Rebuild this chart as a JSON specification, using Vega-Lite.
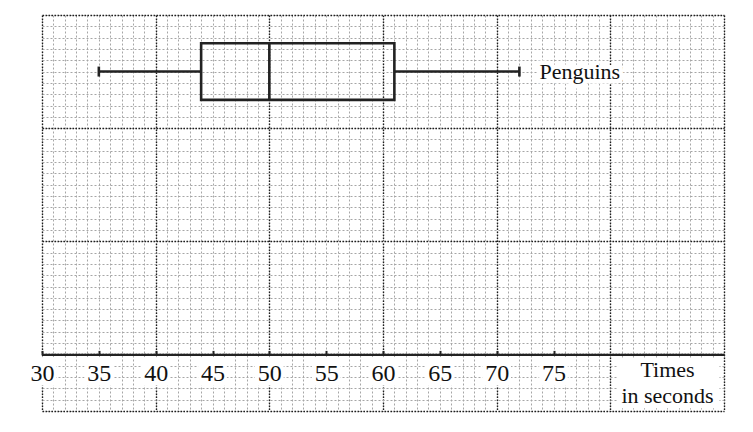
{
  "$schema": "https://vega.github.io/schema/vega-lite/v6.json",
  "width": 682,
  "height": 396,
  "autosize": {"type": "none"},
  "padding": {"left": 42, "top": 15, "right": 29, "bottom": 21},
  "background": "white",
  "config": {"view": {"stroke": null}},
  "data": {"values": [{"group": "Penguins", "min": 35, "q1": 44, "median": 50, "q3": 61, "max": 72}]},
  "resolve": {"axis": {"x": "independent", "y": "independent"}},
  "layer": [
    {
      "mark": {"type": "rule", "stroke": "#222222", "strokeWidth": 2.6},
      "encoding": {
        "x": {"field": "min", "type": "quantitative",
          "scale": {"domain": [30, 90], "nice": false, "zero": false},
          "axis": {"orient": "bottom", "values": [30,31,32,33,34,35,36,37,38,39,40,41,42,43,44,45,46,47,48,49,50,51,52,53,54,55,56,57,58,59,60,61,62,63,64,65,66,67,68,69,70,71,72,73,74,75,76,77,78,79,80,81,82,83,84,85,86,87,88,89,90],
            "grid": true, "gridColor": "#a6a6a6", "gridDash": [2, 2], "gridWidth": 1,
            "domain": false, "ticks": false, "labels": false, "title": null}},
        "x2": {"field": "q1"},
        "y": {"datum": 25, "type": "quantitative",
          "scale": {"domain": [-5, 30], "nice": false, "zero": false},
          "axis": {"orient": "left", "values": [-5,-4,-3,-2,-1,0,1,2,3,4,5,6,7,8,9,10,11,12,13,14,15,16,17,18,19,20,21,22,23,24,25,26,27,28,29,30],
            "grid": true, "gridColor": "#a6a6a6", "gridDash": [2, 2], "gridWidth": 1,
            "domain": false, "ticks": false, "labels": false, "title": null}}
      }
    },
    {
      "mark": {"type": "rule", "stroke": "#222222", "strokeWidth": 2.6},
      "encoding": {
        "x": {"field": "q3", "type": "quantitative",
          "scale": {"domain": [30, 90], "nice": false, "zero": false},
          "axis": {"orient": "bottom", "values": [30, 40, 50, 60, 70, 80, 90],
            "grid": true, "gridColor": "#1e1e1e", "gridDash": [1.5, 1.5], "gridWidth": 1.4,
            "domain": false, "ticks": false, "labels": false, "title": null}},
        "x2": {"field": "max"},
        "y": {"datum": 25, "type": "quantitative",
          "scale": {"domain": [-5, 30], "nice": false, "zero": false},
          "axis": {"orient": "left", "values": [-5, 0, 10, 20, 30],
            "grid": true, "gridColor": "#1e1e1e", "gridDash": [1.5, 1.5], "gridWidth": 1.4,
            "domain": false, "ticks": false, "labels": false, "title": null}}
      }
    },
    {
      "data": {"values": [{"t": 30}, {"t": 35}, {"t": 40}, {"t": 45}, {"t": 50}, {"t": 55}, {"t": 60}, {"t": 65}, {"t": 70}, {"t": 75}]},
      "mark": {"type": "point", "shape": "square", "filled": true, "color": "white", "opacity": 1, "size": 820, "strokeWidth": 0},
      "encoding": {
        "x": {"field": "t", "type": "quantitative", "axis": null},
        "y": {"datum": -1.5, "type": "quantitative", "axis": null}
      }
    },
    {
      "mark": {"type": "rect", "color": "white", "opacity": 1},
      "encoding": {
        "x": {"datum": 80.6, "type": "quantitative", "axis": null},
        "x2": {"datum": 89.6},
        "y": {"datum": -0.35, "type": "quantitative", "axis": null},
        "y2": {"datum": -4.75}
      }
    },
    {
      "mark": {"type": "rect", "fillOpacity": 0, "stroke": "#222222", "strokeWidth": 2.6},
      "encoding": {
        "x": {"field": "q1", "type": "quantitative",
          "scale": {"domain": [30, 90], "nice": false, "zero": false},
          "axis": {"orient": "bottom", "offset": -56.6, "zindex": 1, "values": [30, 35, 40, 45, 50, 55, 60, 65, 70, 75],
            "grid": false, "domain": true, "domainColor": "#222222", "domainWidth": 2.2,
            "ticks": true, "tickColor": "#222222", "tickWidth": 2, "tickSize": -4,
            "labels": true, "labelFlush": false, "labelOverlap": false,
            "labelFont": "Times New Roman, Liberation Serif, serif", "labelFontSize": 24, "labelColor": "#111111", "labelPadding": 11,
            "title": ["Times", "in seconds"], "titleX": 625, "titleY": 22.5, "titleBaseline": "alphabetic",
            "titleAlign": "center", "titleAngle": 0, "titleFont": "Times New Roman, Liberation Serif, serif", "titleFontSize": 22,
            "titleFontWeight": "normal", "titleColor": "#111111", "titleLineHeight": 26}},
        "x2": {"field": "q3"},
        "y": {"datum": 22.5, "type": "quantitative",
          "scale": {"domain": [-5, 30], "nice": false, "zero": false}, "axis": null},
        "y2": {"datum": 27.5}
      }
    },
    {
      "mark": {"type": "rule", "stroke": "#222222", "strokeWidth": 2.6},
      "encoding": {
        "x": {"field": "median", "type": "quantitative", "axis": null},
        "y": {"datum": 22.5, "type": "quantitative", "axis": null},
        "y2": {"datum": 27.5}
      }
    },
    {
      "mark": {"type": "tick", "orient": "vertical", "color": "#222222", "size": 10, "thickness": 2.6, "opacity": 1},
      "encoding": {
        "x": {"field": "min", "type": "quantitative", "axis": null},
        "y": {"datum": 25, "type": "quantitative", "axis": null}
      }
    },
    {
      "mark": {"type": "tick", "orient": "vertical", "color": "#222222", "size": 10, "thickness": 2.6, "opacity": 1},
      "encoding": {
        "x": {"field": "max", "type": "quantitative", "axis": null},
        "y": {"datum": 25, "type": "quantitative", "axis": null}
      }
    },
    {
      "mark": {"type": "text", "align": "left", "baseline": "middle", "dx": 20, "font": "Times New Roman, Liberation Serif, serif", "fontSize": 22, "color": "white", "stroke": "white", "strokeWidth": 9, "strokeJoin": "round"},
      "encoding": {
        "x": {"field": "max", "type": "quantitative", "axis": null},
        "y": {"datum": 25, "type": "quantitative", "axis": null},
        "text": {"field": "group"}
      }
    },
    {
      "mark": {"type": "text", "align": "left", "baseline": "middle", "dx": 20, "font": "Times New Roman, Liberation Serif, serif", "fontSize": 22, "color": "#111111"},
      "encoding": {
        "x": {"field": "max", "type": "quantitative", "axis": null},
        "y": {"datum": 25, "type": "quantitative", "axis": null},
        "text": {"field": "group"}
      }
    }
  ]
}
